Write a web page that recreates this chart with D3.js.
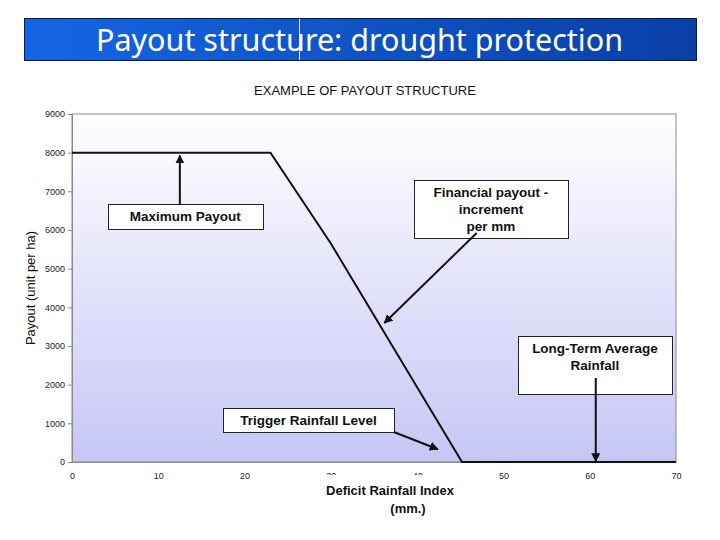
<!DOCTYPE html>
<html>
<head>
<meta charset="utf-8">
<script src="https://cdn.jsdelivr.net/npm/d3@7"></script>
<style>
  body { margin: 0; background: #fff; }
  svg { display: block; font-family: Arial, "Liberation Sans", sans-serif; }
</style>
</head>
<body>
<div class="diagram"></div>
<script>
var width = 720, height = 540;

// payout curve: deficit rainfall index (mm) vs payout (unit per ha)
var rainfall = [0, 23, 30, 45.2, 70];
var payout = [8000, 8000, 5650, 0, 0];

var xTicks = [0, 10, 20, 30, 40, 50, 60, 70];
var yTicks = [0, 1000, 2000, 3000, 4000, 5000, 6000, 7000, 8000, 9000];

// callouts, box corners and arrow ends in data units
var notes = [
	{ lines: ['Maximum Payout'], box: [4.17, 6672, 22.1, 6026], arrow: [12.5, 6672, 12.5, 7930] },
	{ lines: ['Financial payout -', 'increment', 'per mm'], box: [39.6, 7293, 57.5, 5793], arrow: [46.9, 5922, 36.2, 3595] },
	{ lines: ['Long-Term Average', 'Rainfall'], box: [51.7, 3259, 69.5, 1759], arrow: [60.7, 2172, 60.7, 20] },
	{ lines: ['Trigger Rainfall Level'], box: [17.5, 1397, 37.3, 776], arrow: [37.3, 776, 42.4, 330] }
];

var svg = d3.select('.diagram')
	.append('svg')
	.attr('width', width)
	.attr('height', height);

var defs = svg.append('defs');

var titleGrad = defs.append('linearGradient').attr('id', 'titleGrad');
titleGrad.append('stop').attr('offset', '0%').attr('stop-color', '#1466e6');
titleGrad.append('stop').attr('offset', '100%').attr('stop-color', '#0a3fa6');

var plotGrad = defs.append('linearGradient').attr('id', 'plotGrad')
	.attr('x1', 0).attr('y1', 0).attr('x2', 0).attr('y2', 1);
plotGrad.append('stop').attr('offset', '0%').attr('stop-color', '#ffffff');
plotGrad.append('stop').attr('offset', '100%').attr('stop-color', '#c6c6f6');

defs.append('marker')
	.attr('id', 'head')
	.attr('viewBox', '0 0 10 10')
	.attr('refX', 9).attr('refY', 5)
	.attr('markerWidth', 4.5).attr('markerHeight', 4.5)
	.attr('markerUnits', 'strokeWidth')
	.attr('orient', 'auto')
	.append('path')
	.attr('d', 'M0,0 L10,5 L0,10 z')
	.attr('fill', '#111');

// title bar
svg.append('rect')
	.attr('x', 24.5).attr('y', 18.5)
	.attr('width', 672).attr('height', 42)
	.attr('fill', 'url(#titleGrad)')
	.attr('stroke', '#0a1a40');

svg.append('line')
	.attr('x1', 299.5).attr('x2', 299.5)
	.attr('y1', 19).attr('y2', 60)
	.attr('stroke', '#dfe8ff').attr('stroke-width', 1);

svg.append('text')
	.attr('x', 96).attr('y', 51)
	.attr('textLength', 527)
	.attr('lengthAdjust', 'spacingAndGlyphs')
	.style('font-family', '"Noto Sans", "DejaVu Sans", sans-serif')
	.style('font-size', '30px')
	.attr('fill', '#fff')
	.text('Payout structure: drought protection');

svg.append('text')
	.attr('x', 365).attr('y', 95)
	.attr('text-anchor', 'middle')
	.style('font-size', '13px')
	.attr('fill', '#111')
	.text('EXAMPLE OF PAYOUT STRUCTURE');

var x = d3.scaleLinear().domain([0, 70]).range([72, 676]);
var y = d3.scaleLinear().domain([0, 9000]).range([462, 114]);

svg.append('rect')
	.attr('x', x(0)).attr('y', y(9000))
	.attr('width', x(70) - x(0)).attr('height', y(0) - y(9000))
	.attr('fill', 'url(#plotGrad)')
	.attr('stroke', '#8a8a8a');

var yAxis = svg.append('g')
	.attr('transform', 'translate(' + x(0) + ',0)')
	.call(d3.axisLeft(y).tickValues(yTicks).tickSize(4).tickPadding(3).tickFormat(d3.format('d')));
yAxis.select('.domain').attr('stroke', '#8a8a8a');
yAxis.selectAll('.tick line').attr('stroke', '#8a8a8a');
yAxis.selectAll('text').style('font-size', '9px').style('font-family', 'Arial, sans-serif').attr('fill', '#222');

var xAxis = svg.append('g')
	.attr('transform', 'translate(0,' + y(0) + ')')
	.call(d3.axisBottom(x).tickValues(xTicks).tickSize(0).tickPadding(11));
xAxis.select('.domain').attr('stroke', '#8a8a8a');
xAxis.selectAll('text').style('font-size', '9px').style('font-family', 'Arial, sans-serif').attr('fill', '#222');

svg.append('text')
	.attr('transform', 'translate(35,' + ((y(0) + y(9000)) / 2) + ') rotate(-90)')
	.attr('text-anchor', 'middle')
	.style('font-size', '13px')
	.attr('fill', '#111')
	.text('Payout (unit per ha)');

// x title sits on a white box that hides part of two tick labels
svg.append('rect')
	.attr('x', 318).attr('y', 475)
	.attr('width', 144).attr('height', 42)
	.attr('fill', '#fff');

svg.append('text')
	.attr('x', 390).attr('y', 495)
	.attr('text-anchor', 'middle')
	.style('font-size', '13px')
	.style('font-weight', 'bold')
	.attr('fill', '#111')
	.text('Deficit Rainfall Index');

svg.append('text')
	.attr('x', 408).attr('y', 513)
	.attr('text-anchor', 'middle')
	.style('font-size', '13px')
	.style('font-weight', 'bold')
	.attr('fill', '#111')
	.text('(mm.)');

var line = d3.line()
	.x(function(d) { return x(d[0]); })
	.y(function(d) { return y(d[1]); });

svg.append('path')
	.datum(d3.zip(rainfall, payout))
	.attr('d', line)
	.attr('fill', 'none')
	.attr('stroke', '#111')
	.attr('stroke-width', 2);

var note = svg.append('g')
	.attr('class', 'notes')
	.selectAll('.note')
	.data(notes)
	.enter().append('g')
	.attr('class', 'note');

note.append('rect')
	.attr('x', function(d) { return Math.round(x(d.box[0])) + 0.5; })
	.attr('y', function(d) { return Math.round(y(d.box[1])) + 0.5; })
	.attr('width', function(d) { return Math.round(x(d.box[2]) - x(d.box[0])); })
	.attr('height', function(d) { return Math.round(y(d.box[3]) - y(d.box[1])); })
	.attr('fill', '#fff')
	.attr('stroke', '#222')
	.attr('stroke-width', 1);

note.each(function(d) {
	var g = d3.select(this);
	var cx = (x(d.box[0]) + x(d.box[2])) / 2;
	var top = y(d.box[1]);
	d.lines.forEach(function(t, i) {
		g.append('text')
			.attr('x', cx)
			.attr('y', top + 17 + i * 17)
			.attr('text-anchor', 'middle')
			.style('font-size', '13.5px')
			.style('font-weight', 'bold')
			.attr('fill', '#111')
			.text(t);
	});
});

note.append('line')
	.attr('x1', function(d) { return x(d.arrow[0]); })
	.attr('y1', function(d) { return y(d.arrow[1]); })
	.attr('x2', function(d) { return x(d.arrow[2]); })
	.attr('y2', function(d) { return y(d.arrow[3]); })
	.attr('stroke', '#111')
	.attr('stroke-width', 2)
	.attr('marker-end', 'url(#head)');
</script>
</body>
</html>
